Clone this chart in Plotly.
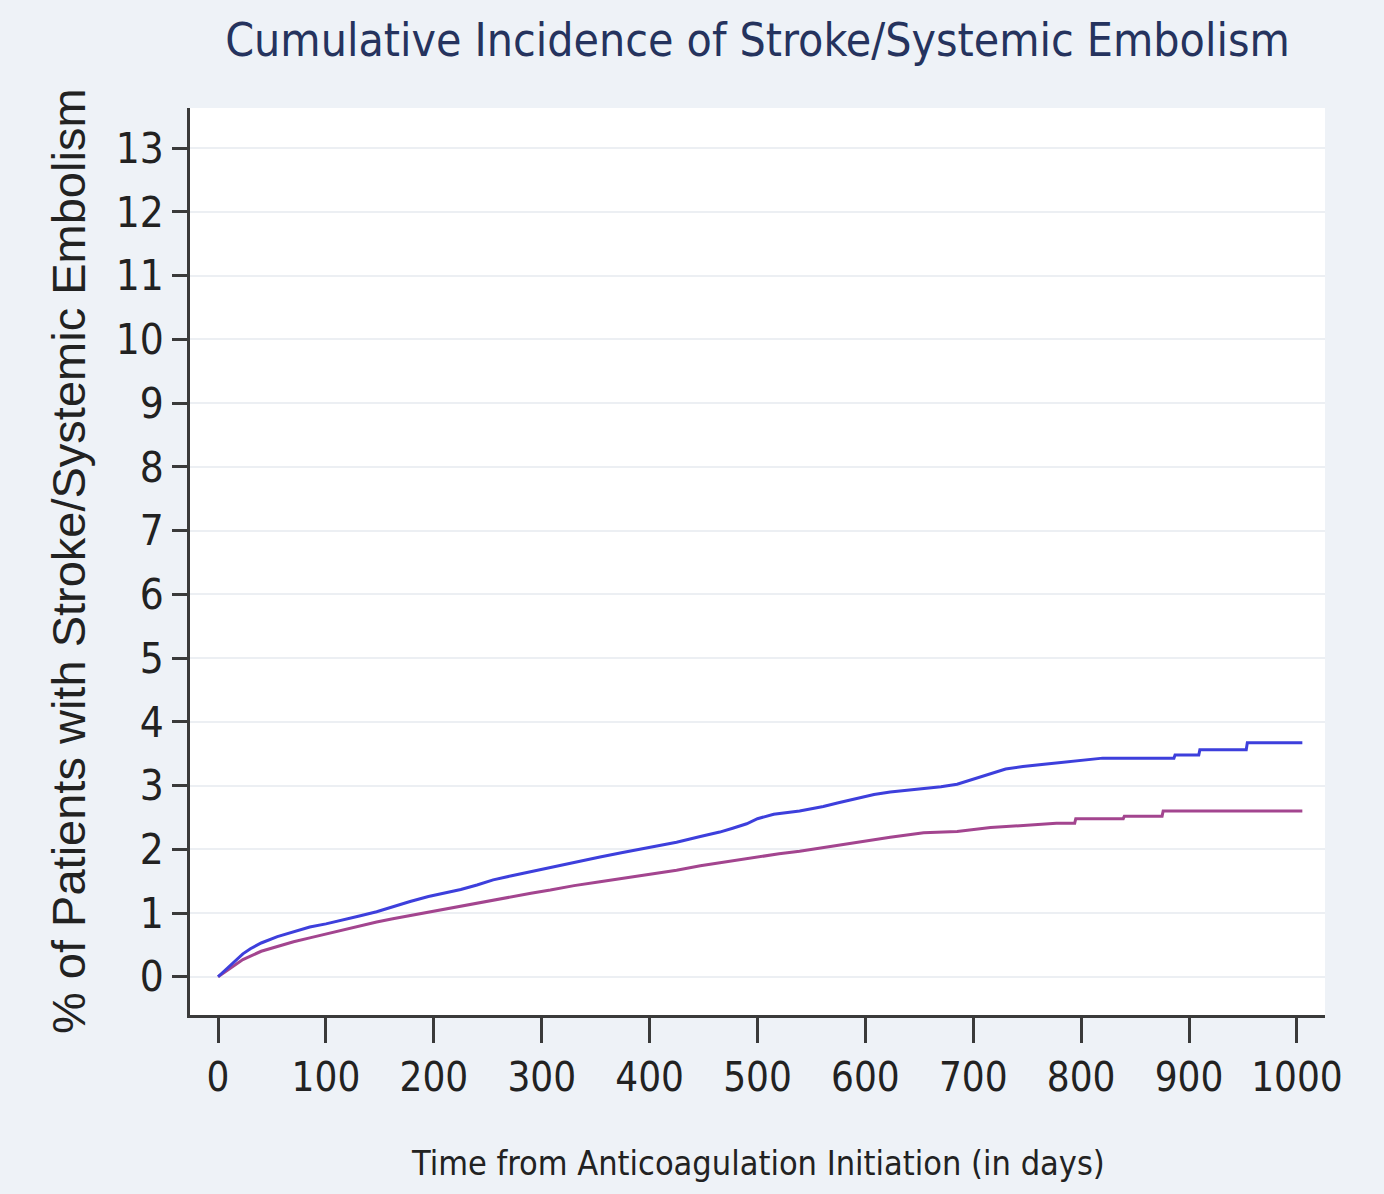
import plotly.graph_objects as go

# ---- data ----
blue_days = [0, 5, 10, 15, 23, 30, 40, 55, 70, 85, 100, 116, 130, 147, 162, 178, 195, 209, 225, 240,
             255, 271, 290, 308, 330, 354, 375, 400, 425, 447, 465, 477, 490, 500, 515, 539, 561, 575,
             592, 608, 623, 640, 654, 670, 685, 700, 716, 730, 746, 777, 800, 820, 886, 887, 909, 910,
             953, 954, 1005]
blue_pct = [0, 0.08, 0.16, 0.24, 0.36, 0.44, 0.53, 0.63, 0.71, 0.78, 0.83, 0.89, 0.95, 1.02, 1.10, 1.18,
            1.26, 1.31, 1.37, 1.44, 1.52, 1.58, 1.65, 1.71, 1.79, 1.88, 1.95, 2.03, 2.11, 2.20, 2.27,
            2.33, 2.40, 2.48, 2.55, 2.60, 2.67, 2.73, 2.80, 2.86, 2.90, 2.93, 2.96, 2.98, 3.02, 3.10,
            3.19, 3.26, 3.30, 3.35, 3.39, 3.43, 3.43, 3.48, 3.48, 3.56, 3.56, 3.67, 3.67]

red_days = [0, 10, 23, 40, 55, 70, 85, 100, 116, 130, 147, 162, 178, 195, 209, 225, 240, 255, 271, 290,
            308, 330, 354, 375, 400, 425, 447, 477, 500, 520, 539, 561, 592, 623, 654, 685, 716, 746,
            777, 794, 795, 839, 840, 875, 876, 1005]
red_pct = [0, 0.12, 0.27, 0.40, 0.48, 0.55, 0.61, 0.67, 0.74, 0.80, 0.86, 0.91, 0.96, 1.02, 1.06, 1.11,
           1.16, 1.21, 1.25, 1.31, 1.36, 1.43, 1.49, 1.54, 1.60, 1.67, 1.74, 1.82, 1.88, 1.93, 1.97,
           2.03, 2.11, 2.19, 2.26, 2.28, 2.34, 2.38, 2.41, 2.41, 2.48, 2.48, 2.52, 2.52, 2.60, 2.60]

x_ticks = [0, 100, 200, 300, 400, 500, 600, 700, 800, 900, 1000]
y_ticks = list(range(0, 14))

title_text = "Cumulative Incidence of Stroke/Systemic Embolism"
x_title = "Time from Anticoagulation Initiation (in days)"
y_title = "% of Patients with Stroke/Systemic Embolism"

NARROW = "DejaVu Sans Condensed, Liberation Sans Narrow, sans-serif"
REG = "Liberation Sans, Arial, sans-serif"

fig = go.Figure()
fig.add_trace(go.Scatter(x=red_days, y=red_pct, mode="lines",
                         line=dict(color="#a3458f", width=3), showlegend=False))
fig.add_trace(go.Scatter(x=blue_days, y=blue_pct, mode="lines",
                         line=dict(color="#3d3fdc", width=3), showlegend=False))

fig.update_layout(
    width=1384, height=1194,
    margin=dict(l=190, r=59, t=108, b=179),
    paper_bgcolor="#eef2f7",
    plot_bgcolor="#ffffff",
    showlegend=False,
    title=dict(text=title_text, x=0.5, xref="paper", xanchor="center",
               y=1 - 40 / 1194, yref="container", yanchor="middle",
               font=dict(family=NARROW, size=46, color="#25335e")),
)

fig.update_xaxes(
    range=[-26, 1026], tickvals=x_ticks, ticktext=[str(v) for v in x_ticks],
    showgrid=False, zeroline=False,
    showline=True, linecolor="#3a3a3a", linewidth=2.5,
    ticks="outside", ticklen=25, tickwidth=2.5, tickcolor="#3a3a3a",
    tickfont=dict(family=NARROW, size=40, color="#222222"),
)
fig.update_yaxes(
    range=[-0.6, 13.63], tickvals=y_ticks, ticktext=[str(v) for v in y_ticks],
    showgrid=True, gridcolor="#eceff3", gridwidth=1.5, zeroline=False,
    showline=True, linecolor="#3a3a3a", linewidth=2.5,
    ticks="outside", ticklen=15, tickwidth=2.5, tickcolor="#3a3a3a",
    tickfont=dict(family=NARROW, size=42, color="#222222"),
)

fig.add_annotation(text=x_title, xref="paper", yref="paper", x=0.5, y=-(1163 - 1015) / 907,
                   xanchor="center", yanchor="middle", showarrow=False,
                   font=dict(family=NARROW, size=34, color="#222222"))
fig.add_annotation(text=y_title, xref="paper", yref="paper", x=-(190 - 68) / 1135, y=(1015 - 561) / 907,
                   xanchor="center", yanchor="middle", showarrow=False, textangle=-90,
                   font=dict(family=REG, size=47, color="#222222"))

fig.write_html("out.html")
